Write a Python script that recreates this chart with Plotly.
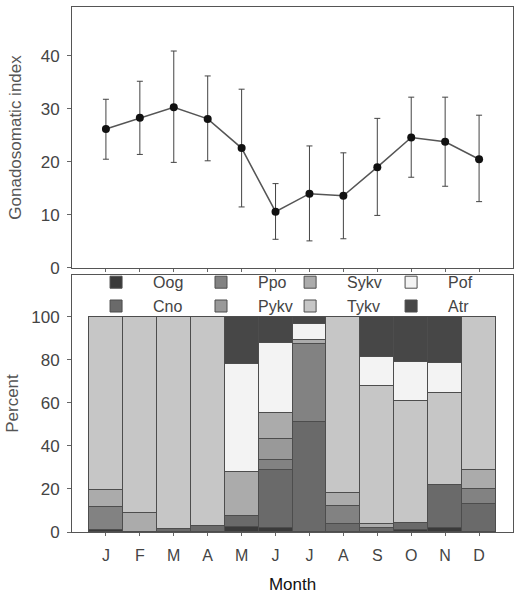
import plotly.graph_objects as go

months = ["J", "F", "M", "A", "M", "J", "J", "A", "S", "O", "N", "D"]
month_pos = list(range(1, 13))

# Gonadosomatic index: mean, upper and lower error bar ends
gsi_mean = [26.2, 28.3, 30.3, 28.1, 22.6, 10.6, 14.0, 13.6, 19.0, 24.6, 23.8, 20.5]
gsi_upper = [31.8, 35.2, 40.9, 36.2, 33.7, 15.9, 23.0, 21.7, 28.2, 32.2, 32.2, 28.8]
gsi_lower = [20.5, 21.4, 19.9, 20.2, 11.5, 5.4, 5.1, 5.5, 9.9, 17.1, 15.4, 12.5]

# Percent of oocyte stages (stacked from bottom)
stage_names = ["Oog", "Cno", "Ppo", "Pykv", "Sykv", "Tykv", "Pof", "Atr"]
oog = [1.0, 0.0, 0.0, 0.0, 2.5, 2.0, 0.0, 0.0, 0.0, 1.0, 2.0, 0.0]
cno = [0.0, 0.0, 1.5, 2.7, 4.9, 26.8, 51.3, 3.5, 2.0, 3.0, 20.0, 13.0]
ppo = [10.5, 0.0, 0.0, 0.0, 0.0, 4.7, 36.0, 8.5, 0.0, 0.0, 0.0, 7.0]
pykv = [0.0, 0.0, 0.0, 0.0, 0.0, 9.6, 0.0, 0.0, 0.0, 0.0, 0.0, 0.0]
sykv = [8.0, 8.7, 0.0, 0.0, 20.4, 12.1, 2.0, 6.0, 1.5, 0.0, 0.0, 8.8]
tykv = [80.5, 91.3, 98.5, 97.3, 0.0, 0.0, 0.0, 82.0, 64.4, 57.1, 42.8, 71.2]
pof = [0.0, 0.0, 0.0, 0.0, 50.2, 32.6, 7.6, 0.0, 13.6, 17.8, 14.0, 0.0]
atr = [0.0, 0.0, 0.0, 0.0, 22.0, 12.2, 3.1, 0.0, 18.5, 21.1, 21.2, 0.0]
stage_values = [oog, cno, ppo, pykv, sykv, tykv, pof, atr]

stage_colors = ["#3a3a3a", "#6a6a6a", "#828282", "#999999", "#ababab",
                "#c6c6c6", "#f3f3f3", "#474747"]
stage_legend = ["legend", "legend", "legend2", "legend2",
                "legend3", "legend3", "legend4", "legend4"]

fig = go.Figure()

fig.add_trace(go.Scatter(
    x=month_pos, y=gsi_mean, mode="lines+markers",
    line=dict(color="#555555", width=1.5),
    marker=dict(color="#111111", size=8),
    error_y=dict(type="data", symmetric=False,
                 array=[u - m for u, m in zip(gsi_upper, gsi_mean)],
                 arrayminus=[m - l for m, l in zip(gsi_mean, gsi_lower)],
                 color="#444444", thickness=1, width=3),
    xaxis="x", yaxis="y", showlegend=False,
))

for name, vals, col, lg in zip(stage_names, stage_values, stage_colors, stage_legend):
    fig.add_trace(go.Bar(
        x=month_pos, y=vals, name=name, width=1,
        marker=dict(color=col, line=dict(color="#4d4d4d", width=1)),
        xaxis="x2", yaxis="y2", legend=lg,
    ))

yfont = dict(family="Liberation Sans, Arial, sans-serif", size=17, color="#444444")
xfont = dict(family="Liberation Sans, Arial, sans-serif", size=16, color="#444444")


def legend_at(x):
    return dict(orientation="v", x=x, y=0.508, xanchor="left", yanchor="top",
                traceorder="normal", itemwidth=64,
                font=dict(size=16, color="#444444"), bgcolor="rgba(0,0,0,0)")


fig.update_layout(
    width=515, height=596,
    margin=dict(l=72, r=2, t=7, b=64, autoexpand=False),
    paper_bgcolor="white", plot_bgcolor="white",
    barmode="stack", bargap=0,
    font=dict(family="Liberation Sans, Arial, sans-serif"),
    xaxis=dict(domain=[0, 1], range=[0, 13], tickvals=month_pos, ticktext=[""] * 12,
               ticks="outside", ticklen=3, tickcolor="#666666", automargin=False,
               showline=True, linecolor="#555555", linewidth=1, mirror=True,
               showgrid=False, zeroline=False, anchor="y"),
    yaxis=dict(domain=[0.503, 1.0], range=[0, 49.2], tickvals=[0, 10, 20, 30, 40],
               ticks="outside", ticklen=4, tickcolor="#666666", tickfont=yfont,
               ticklabelstandoff=4,
               showline=True, linecolor="#555555", linewidth=1, mirror=True,
               showgrid=False, zeroline=False, anchor="x", automargin=False,
               title=dict(text="Gonadosomatic index", standoff=14,
                          font=dict(size=17, color="#555555"))),
    xaxis2=dict(domain=[0, 1], range=[0, 13], tickvals=month_pos, ticktext=months,
                ticks="outside", ticklen=3, tickcolor="#666666", tickfont=xfont,
                ticklabelstandoff=6,
                showline=True, linecolor="#555555", linewidth=1, mirror=True,
                showgrid=False, zeroline=False, anchor="y2", automargin=False,
                title=dict(text="Month", standoff=14,
                           font=dict(size=17, color="#111111"))),
    yaxis2=dict(domain=[0, 0.4895], range=[0, 119.5], tickvals=[0, 20, 40, 60, 80, 100],
                ticks="outside", ticklen=4, tickcolor="#666666", tickfont=yfont,
                ticklabelstandoff=4,
                showline=True, linecolor="#555555", linewidth=1, mirror=True,
                showgrid=False, zeroline=False, anchor="x2", automargin=False,
                title=dict(text="Percent", standoff=8,
                           font=dict(size=17, color="#555555"))),
    legend=legend_at(0.016),
    legend2=legend_at(0.254),
    legend3=legend_at(0.456),
    legend4=legend_at(0.685),
)

fig.write_html("out.html", config={"displayModeBar": False},
               post_script="document.body.style.margin='0';")
